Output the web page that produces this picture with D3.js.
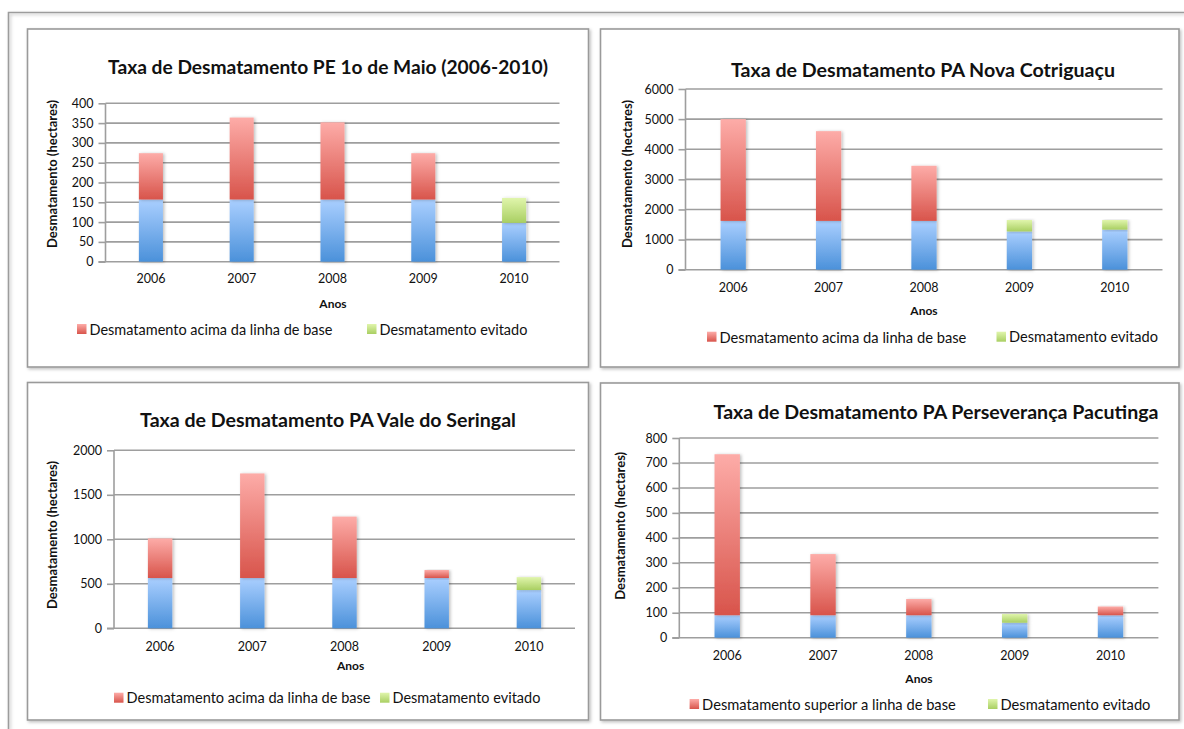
<!DOCTYPE html>
<html>
<head>
<meta charset="utf-8">
<script src="https://cdn.jsdelivr.net/npm/d3@7"></script>
<style>
  html, body { margin: 0; padding: 0; background: #ffffff; }
  svg { display: block; font-family: Lato, "Open Sans", sans-serif; }
</style>
</head>
<body>
<svg id="chart" width="1184" height="729"></svg>
<script>
// Years shared by all four panels
const years = ["2006", "2007", "2008", "2009", "2010"];

// PE 1o de Maio
const maioBase    = [157, 157, 157, 157, 98];
const maioAbove   = [117, 207, 195, 117, 0];
const maioAvoided = [0, 0, 0, 0, 63];
const maioTicks   = [0, 50, 100, 150, 200, 250, 300, 350, 400];

// PA Nova Cotriguaçu
const cotriBase    = [1620, 1620, 1620, 1270, 1330];
const cotriAbove   = [3380, 2980, 1830, 0, 0];
const cotriAvoided = [0, 0, 0, 380, 320];
const cotriTicks   = [0, 1000, 2000, 3000, 4000, 5000, 6000];

// PA Vale do Seringal
const valeBase    = [565, 565, 565, 565, 430];
const valeAbove   = [445, 1175, 690, 90, 0];
const valeAvoided = [0, 0, 0, 0, 145];
const valeTicks   = [0, 500, 1000, 1500, 2000];

// PA Perseverança Pacutinga
const persBase    = [90, 90, 90, 60, 90];
const persAbove   = [645, 245, 65, 0, 35];
const persAvoided = [0, 0, 0, 35, 0];
const persTicks   = [0, 100, 200, 300, 400, 500, 600, 700, 800];

const titles = [
  "Taxa de Desmatamento PE 1o de Maio (2006-2010)",
  "Taxa de Desmatamento PA Nova Cotriguaçu",
  "Taxa de Desmatamento PA Vale do Seringal",
  "Taxa de Desmatamento PA Perseverança Pacutinga"
];
const aboveNames = [
  "Desmatamento acima da linha de base",
  "Desmatamento acima da linha de base",
  "Desmatamento acima da linha de base",
  "Desmatamento superior a linha de base"
];
const avoidedName = "Desmatamento evitado";
const yTitle = "Desmatamento (hectares)";
const xTitle = "Anos";

const panelsData = [
  { base: maioBase,  above: maioAbove,  avoided: maioAvoided,  ticks: maioTicks },
  { base: cotriBase, above: cotriAbove, avoided: cotriAvoided, ticks: cotriTicks },
  { base: valeBase,  above: valeAbove,  avoided: valeAvoided,  ticks: valeTicks },
  { base: persBase,  above: persAbove,  avoided: persAvoided,  ticks: persTicks }
];

// Page layout of each panel (frame, plot area, text anchors)
const layouts = [
  { box: [27.5, 29, 588.5, 367], plot: [105.5, 559.5, 103.3, 261.7], title: [328, 66, 440],
    xLab: 279, anos: [333, 303], yLab: [52, 174], legY: 329, leg: [[77, 243], [367, 148]] },
  { box: [600.5, 29, 1179, 367], plot: [685.5, 1162.5, 89, 269.7], title: [923, 69, 384],
    xLab: 288, anos: [924, 310.7], yLab: [627, 174], legY: 336.7, leg: [[707, 247], [996.5, 149]] },
  { box: [27.5, 382.5, 588.5, 720], plot: [114, 575, 450.3, 628.3], title: [328, 419.3, 376],
    xLab: 646.7, anos: [350.6, 665.7], yLab: [52, 535], legY: 697.7, leg: [[114, 244], [380, 148]] },
  { box: [600.5, 383, 1179, 720], plot: [679.3, 1158.4, 438, 637.7], title: [936, 411, 445],
    xLab: 656, anos: [919, 678.7], yLab: [619.7, 525.8], legY: 704, leg: [[689.6, 254], [988, 150]] }
];

const svg = d3.select("#chart");
const defs = svg.append("defs");

// Vertical gradients for each series
const gradients = {
  base:    ["#aacfff", "#4b91da"],
  above:   ["#fdaca8", "#d8544b"],
  avoided: ["#e0f5ac", "#a9cf62"]
};
Object.entries(gradients).forEach(([key, [top, bottom]]) => {
  const g = defs.append("linearGradient").attr("id", "grad-" + key)
    .attr("x1", 0).attr("y1", 0).attr("x2", 0).attr("y2", 1);
  g.append("stop").attr("offset", "0%").attr("stop-color", top);
  g.append("stop").attr("offset", "100%").attr("stop-color", bottom);
});

const barShadow = defs.append("filter").attr("id", "barShadow")
  .attr("x", "-30%").attr("y", "-10%").attr("width", "170%").attr("height", "130%");
barShadow.append("feDropShadow").attr("dx", 1.5).attr("dy", 0.5)
  .attr("stdDeviation", 1.6).attr("flood-color", "#000").attr("flood-opacity", 0.25);

const frameShadow = defs.append("filter").attr("id", "frameShadow")
  .attr("x", "-5%").attr("y", "-5%").attr("width", "110%").attr("height", "110%");
frameShadow.append("feDropShadow").attr("dx", 1.5).attr("dy", 1.5)
  .attr("stdDeviation", 1.5).attr("flood-color", "#000").attr("flood-opacity", 0.25);

// Outer page frame
svg.append("path")
  .attr("d", "M8.5,729 L8.5,12.5 L1184,12.5")
  .attr("fill", "none").attr("stroke", "#9c9c9c").attr("stroke-width", 1.6)
  .attr("filter", "url(#frameShadow)");

function fitWidth(textSel, target, startSize) {
  textSel.attr("font-size", startSize);
  const w = textSel.node().getComputedTextLength();
  textSel.attr("font-size", (startSize * target / w).toFixed(2));
}

const gridColor = "#9e9e9e";

panelsData.forEach((d, i) => {
  const L = layouts[i];
  const g = svg.append("g");

  // Panel frame
  g.append("rect")
    .attr("x", L.box[0]).attr("y", L.box[1])
    .attr("width", L.box[2] - L.box[0]).attr("height", L.box[3] - L.box[1])
    .attr("fill", "#fff").attr("stroke", "#9a9a9a").attr("stroke-width", 1.6)
    .attr("filter", "url(#frameShadow)");

  const [px0, px1, pyTop, pyBot] = L.plot;
  const x = d3.scaleBand().domain(years).range([px0, px1]).paddingInner(0.735).paddingOuter(0.3675);
  const yMax = d.ticks[d.ticks.length - 1];
  const y = d3.scaleLinear().domain([0, yMax]).range([pyBot, pyTop]);

  // Horizontal gridlines
  g.append("g").selectAll("line").data(d.ticks.filter(t => t > 0)).join("line")
    .attr("x1", px0).attr("x2", px1)
    .attr("y1", t => y(t)).attr("y2", t => y(t))
    .attr("stroke", gridColor).attr("stroke-width", 1.6);

  // Y axis
  const yAxis = g.append("g").attr("transform", `translate(${px0},0)`)
    .call(d3.axisLeft(y).tickValues(d.ticks).tickSize(7).tickPadding(5).tickFormat(d3.format("d")));
  yAxis.select(".domain").attr("stroke", gridColor).attr("stroke-width", 1.6)
    .attr("d", `M0,${pyTop}V${pyBot}`);
  yAxis.selectAll(".tick line").attr("stroke", gridColor).attr("stroke-width", 1.6);
  yAxis.selectAll(".tick text").attr("font-size", 12.5).attr("fill", "#111")
    .attr("font-family", "Lato, sans-serif");

  // X axis baseline and labels
  const xAxis = g.append("g").attr("transform", `translate(0,${pyBot})`)
    .call(d3.axisBottom(x).tickSize(0).tickPadding(0));
  xAxis.select(".domain").attr("stroke", gridColor).attr("stroke-width", 1.6)
    .attr("d", `M${px0 - 7},0H${px1}`);
  xAxis.selectAll(".tick text").attr("font-size", 12.5).attr("fill", "#111")
    .attr("font-family", "Lato, sans-serif")
    .attr("dy", null).attr("y", L.xLab - pyBot).attr("dominant-baseline", "central");

  // Stacked bars: base, above baseline, avoided
  const rows = years.map((yr, k) => ({ yr, base: d.base[k], above: d.above[k], avoided: d.avoided[k] }));
  const stack = d3.stack().keys(["base", "above", "avoided"])(rows);
  const bars = g.append("g");
  stack.forEach(layer => {
    bars.append("g").selectAll("rect")
      .data(layer.filter(s => s[1] - s[0] > 0))
      .join("rect")
      .attr("x", s => x(s.data.yr))
      .attr("width", x.bandwidth())
      .attr("y", s => y(s[1]))
      .attr("height", s => y(s[0]) - y(s[1]))
      .attr("fill", `url(#grad-${layer.key})`)
      .attr("filter", "url(#barShadow)");
  });

  // Titles
  const title = g.append("text")
    .attr("x", L.title[0]).attr("y", L.title[1])
    .attr("text-anchor", "middle").attr("dominant-baseline", "central")
    .attr("font-weight", "bold").attr("fill", "#111").text(titles[i]);
  fitWidth(title, L.title[2], 17);

  g.append("text")
    .attr("x", L.anos[0]).attr("y", L.anos[1])
    .attr("text-anchor", "middle").attr("dominant-baseline", "central")
    .attr("font-weight", "bold").attr("font-size", 12).attr("fill", "#111").text(xTitle);

  const yt = g.append("text")
    .attr("transform", `translate(${L.yLab[0]},${L.yLab[1]}) rotate(-90)`)
    .attr("text-anchor", "middle").attr("dominant-baseline", "central")
    .attr("font-weight", "bold").attr("fill", "#111").text(yTitle);
  fitWidth(yt, 148, 12);

  // Legend (only the above-baseline and avoided series)
  const legendItems = [
    { key: "above", name: aboveNames[i] },
    { key: "avoided", name: avoidedName }
  ];
  legendItems.forEach((item, j) => {
    const lx = L.leg[j][0];
    g.append("rect")
      .attr("x", lx).attr("y", L.legY - 5)
      .attr("width", 9.5).attr("height", 10)
      .attr("fill", `url(#grad-${item.key})`);
    const t = g.append("text")
      .attr("x", lx + 12.5).attr("y", L.legY)
      .attr("dominant-baseline", "central").attr("fill", "#111").text(item.name);
    fitWidth(t, L.leg[j][1], 14);
  });
});
</script>
</body>
</html>
